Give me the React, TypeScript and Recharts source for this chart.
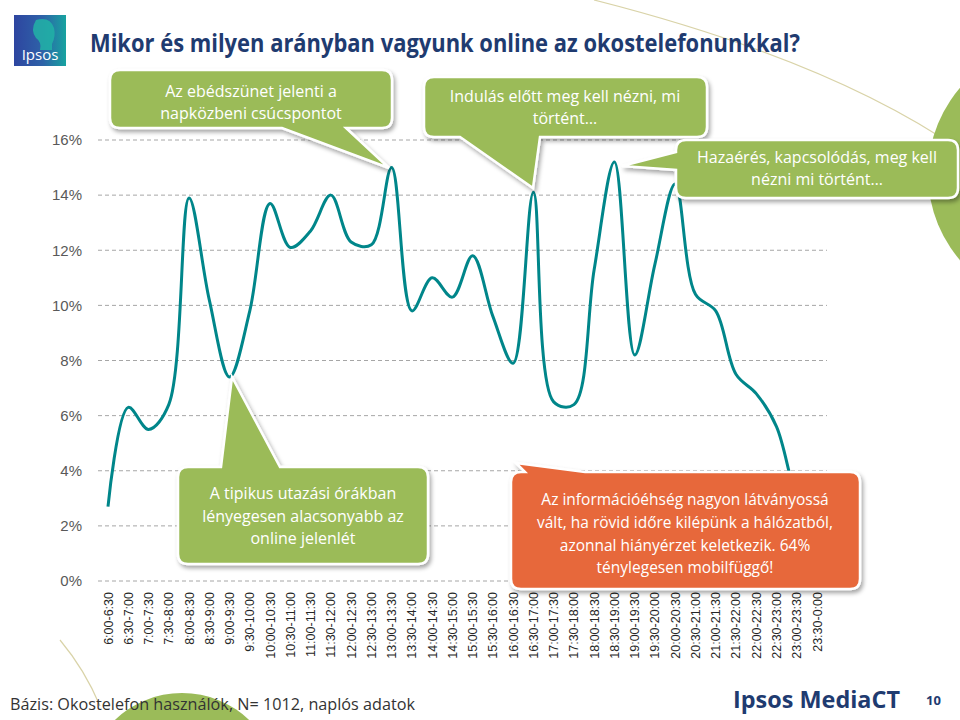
import React from "react";
import { LineChart, Line, XAxis, YAxis, CartesianGrid } from "recharts";

const categories: string[] = [
  "6:00-6:30", "6:30-7:00", "7:00-7:30", "7:30-8:00", "8:00-8:30", "8:30-9:00",
  "9:00-9:30", "9:30-10:00", "10:00-10:30", "10:30-11:00", "11:00-11:30", "11:30-12:00",
  "12:00-12:30", "12:30-13:00", "13:00-13:30", "13:30-14:00", "14:00-14:30", "14:30-15:00",
  "15:00-15:30", "15:30-16:00", "16:00-16:30", "16:30-17:00", "17:00-17:30", "17:30-18:00",
  "18:00-18:30", "18:30-19:00", "19:00-19:30", "19:30-20:00", "20:00-20:30", "20:30-21:00",
  "21:00-21:30", "21:30-22:00", "22:00-22:30", "22:30-23:00", "23:00-23:30", "23:30-0:00",
];

const onlineShare: number[] = [
  2.7, 6.3, 5.5, 6.4, 13.9, 10.2, 7.4, 9.8, 13.7, 12.1, 12.7, 14.0,
  12.3, 12.2, 15.0, 9.8, 11.0, 10.3, 11.8, 9.6, 7.9, 14.1, 6.5, 6.4,
  11.3, 15.2, 8.2, 11.5, 14.4, 10.4, 9.8, 7.5, 6.8, 5.6, 3.0, 1.6,
];

const yTicks: number[] = [0, 2, 4, 6, 8, 10, 12, 14, 16];

const data = categories.map((c, i) => ({ cat: c, v: onlineShare[i] }));

const FONT = "'Open Sans', 'Noto Sans', sans-serif";

// Centripetal Catmull-Rom smoothing (close to Excel's smoothed line)
function smoothCurve(context: any) {
  const alpha = 0.5;
  const eps = 1e-12;
  let x0 = NaN, x1 = NaN, x2 = NaN, y0 = NaN, y1 = NaN, y2 = NaN;
  let l01a = 0, l12a = 0, l23a = 0, l012a = 0, l122a = 0, l232a = 0;
  let pt = 0;
  let line = NaN;
  const seg = (x: number, y: number) => {
    let cx1 = x1, cy1 = y1, cx2 = x2, cy2 = y2;
    if (l01a > eps) {
      const a = 2 * l012a + 3 * l01a * l12a + l122a;
      const n = 3 * l01a * (l01a + l12a);
      cx1 = (x1 * a - x0 * l122a + x2 * l012a) / n;
      cy1 = (y1 * a - y0 * l122a + y2 * l012a) / n;
    }
    if (l23a > eps) {
      const b = 2 * l232a + 3 * l23a * l12a + l122a;
      const m = 3 * l23a * (l23a + l12a);
      cx2 = (x2 * b + x1 * l232a - x * l122a) / m;
      cy2 = (y2 * b + y1 * l232a - y * l122a) / m;
    }
    context.bezierCurveTo(cx1, cy1, cx2, cy2, x2, y2);
  };
  const api: any = {
    areaStart() { line = 0; },
    areaEnd() { line = NaN; },
    lineStart() {
      x0 = x1 = x2 = y0 = y1 = y2 = NaN;
      l01a = l12a = l23a = l012a = l122a = l232a = 0;
      pt = 0;
    },
    lineEnd() {
      if (pt === 2) context.lineTo(x2, y2);
      else if (pt === 3) api.point(x2, y2);
      if (line || (line !== 0 && pt === 1)) context.closePath();
      line = 1 - line;
    },
    point(x: number, y: number) {
      x = +x; y = +y;
      if (pt) {
        const dx = x2 - x, dy = y2 - y;
        l232a = Math.pow(dx * dx + dy * dy, alpha);
        l23a = Math.sqrt(l232a);
      }
      if (pt === 0) { pt = 1; line ? context.lineTo(x, y) : context.moveTo(x, y); }
      else if (pt === 1) { pt = 2; }
      else { if (pt === 2) pt = 3; seg(x, y); }
      l01a = l12a; l12a = l23a;
      l012a = l122a; l122a = l232a;
      x0 = x1; x1 = x2; x2 = x;
      y0 = y1; y1 = y2; y2 = y;
    },
  };
  return api;
}

const XTick = (props: any) => {
  const { x, payload } = props;
  const y = 592;
  return (
    <text
      x={x}
      y={y}
      transform={`rotate(-90 ${x} ${y})`}
      textAnchor="end"
      dy={4.5}
      fontSize={12.5}
      fill="#262626"
      fontFamily="'Liberation Sans', Arial, sans-serif"
    >
      {payload.value}
    </text>
  );
};

type Side = "top" | "bottom" | "left";
function calloutPath(x: number, y: number, w: number, h: number, r: number, side: Side, a: number, b: number, tx: number, ty: number) {
  const R = x + w, B = y + h;
  let p = `M ${x + r} ${y} `;
  if (side === "top") p += `H ${a} L ${tx} ${ty} L ${b} ${y} `;
  p += `H ${R - r} Q ${R} ${y} ${R} ${y + r} V ${B - r} Q ${R} ${B} ${R - r} ${B} `;
  if (side === "bottom") p += `H ${b} L ${tx} ${ty} L ${a} ${B} `;
  p += `H ${x + r} Q ${x} ${B} ${x} ${B - r} `;
  if (side === "left") p += `V ${b} L ${tx} ${ty} L ${x} ${a} `;
  p += `V ${y + r} Q ${x} ${y} ${x + r} ${y} Z`;
  return p;
}

const Callout = (props: {
  x: number; y: number; w: number; h: number; side: Side; a: number; b: number; tx: number; ty: number;
  fill: string; lines: string[]; cx: number; y0: number; lh: number; fs: number;
}) => {
  const { x, y, w, h, side, a, b, tx, ty, fill, lines, cx, y0, lh, fs } = props;
  return (
    <g>
      <path d={calloutPath(x, y, w, h, 10, side, a, b, tx, ty)} fill={fill} stroke="#ffffff" strokeWidth={2.5} filter="url(#shadow)" />
      {lines.map((t, i) => (
        <text key={i} x={cx} y={y0 + i * lh} textAnchor="middle" fontSize={fs} fill="#ffffff" fontFamily={FONT}>
          {t}
        </text>
      ))}
    </g>
  );
};

export default function App() {
  return (
    <div style={{ position: "absolute", left: 0, top: 0, width: 960, height: 720, background: "#ffffff", overflow: "hidden" }}>
      {/* background decoration */}
      <svg width={960} height={720} style={{ position: "absolute", left: 0, top: 0 }}>
        <path d="M 594 0 Q 830 60 960 150" fill="none" stroke="#d9d3a8" strokeWidth={1.2} />
        <circle cx={1060} cy={174} r={132} fill="#9BBB59" />
        <circle cx={182} cy={790} r={97} fill="#9BBB59" />
        <path d="M 60 640 Q 85 670 100 706" fill="none" stroke="#d9d3a8" strokeWidth={1.2} />
      </svg>
      <div style={{ position: "absolute", left: 0, top: 0 }}>
        <LineChart width={960} height={720} data={data} margin={{ top: 140, right: 133, bottom: 59, left: 8 }}>
          <CartesianGrid vertical={false} stroke="#a6a6a6" strokeDasharray="4 3" />
          <XAxis
            dataKey="cat"
            interval={0}
            height={80}
            padding={{ left: 10, right: 10 }}
            axisLine={false}
            tickLine={false}
            tickSize={0}
            tick={<XTick />}
          />
          <YAxis
            domain={[0, 16]}
            ticks={yTicks}
            width={90}
            axisLine={false}
            tickLine={false}
            tickSize={0}
            tickMargin={16}
            tickFormatter={(v: number) => `${v}%`}
            tick={{ fontSize: 15, fill: "#595959", fontFamily: "'Liberation Sans', Arial, sans-serif" }}
          />
          <Line
            dataKey="v"
            type={smoothCurve as any}
            stroke="#00868A"
            strokeWidth={3}
            dot={false}
            activeDot={false}
            isAnimationActive={false}
          />
        </LineChart>
      </div>
      <svg width={960} height={720} style={{ position: "absolute", left: 0, top: 0 }}>
        <defs>
          <filter id="shadow" x="-10%" y="-10%" width="130%" height="140%">
            <feDropShadow dx="2" dy="3" stdDeviation="2" floodColor="#000000" floodOpacity="0.35" />
          </filter>
          <linearGradient id="logoGrad" x1="0" y1="0" x2="1" y2="0">
            <stop offset="0" stopColor="#2E45A0" />
            <stop offset="0.55" stopColor="#2E62A8" />
            <stop offset="1" stopColor="#17A3A0" />
          </linearGradient>
        </defs>

        {/* logo */}
        <rect x={14} y={15} width={52} height={51} fill="url(#logoGrad)" />
        <path d="M 36 20 Q 50 16 54 28 Q 56 36 52 44 L 52 50 L 40 50 Q 42 42 36 38 Q 30 30 36 20 Z" fill="#21B3A6" opacity={0.85} />
        <text x={40} y={60} textAnchor="middle" fontSize={15} fill="#ffffff" fontFamily={FONT}>Ipsos</text>

        {/* title */}
        <text x={90} y={52} fontSize={25} fontWeight={700} fill="#1F3B70" fontFamily={FONT} textLength={710} lengthAdjust="spacingAndGlyphs">
          Mikor és milyen arányban vagyunk online az okostelefonunkkal?
        </text>

        <Callout x={110} y={70} w={282} h={58} side="bottom" a={282} b={346} tx={389} ty={168}
          fill="#9BBB59" lines={["Az ebédszünet jelenti a", "napközbeni csúcspontot"]} cx={251} y0={97} lh={22} fs={16} />
        <Callout x={424} y={77} w={283} h={60} side="bottom" a={460} b={540} tx={533} ty={188}
          fill="#9BBB59" lines={["Indulás előtt meg kell nézni, mi", "történt…"]} cx={565} y0={102} lh={21.5} fs={16} />
        <Callout x={676} y={140} w={282} h={58} side="left" a={152} b={170} tx={622} ty={166}
          fill="#9BBB59" lines={["Hazaérés, kapcsolódás, meg kell", "nézni mi történt…"]} cx={817} y0={163} lh={22} fs={16} />
        <Callout x={178} y={467} w={250} h={97} side="top" a={221} b={280} tx={232} ty={377}
          fill="#9BBB59" lines={["A tipikus utazási órákban", "lényegesen alacsonyabb az", "online jelenlét"]} cx={303} y0={499} lh={22.5} fs={16} />
        <Callout x={511} y={472} w={349} h={117} side="top" a={525} b={585} tx={516} ty={463}
          fill="#E7683A" lines={["Az információéhség nagyon látványossá", "vált, ha rövid időre kilépünk a hálózatból,", "azonnal hiányérzet keletkezik. 64%", "ténylegesen mobilfüggő!"]} cx={685} y0={505} lh={22.8} fs={15.5} />

        {/* footer */}
        <text x={10} y={710} fontSize={15.5} fill="#333333" fontFamily={FONT} textLength={405} lengthAdjust="spacingAndGlyphs">
          Bázis: Okostelefon használók, N= 1012, naplós adatok
        </text>
        <text x={733} y={708} fontSize={24} fontWeight={700} fill="#1F3B70" fontFamily={FONT} textLength={167} lengthAdjust="spacingAndGlyphs">
          Ipsos MediaCT
        </text>
        <text x={926} y={705} fontSize={13} fontWeight={700} fill="#1F3B70" fontFamily={FONT}>10</text>
      </svg>
    </div>
  );
}
